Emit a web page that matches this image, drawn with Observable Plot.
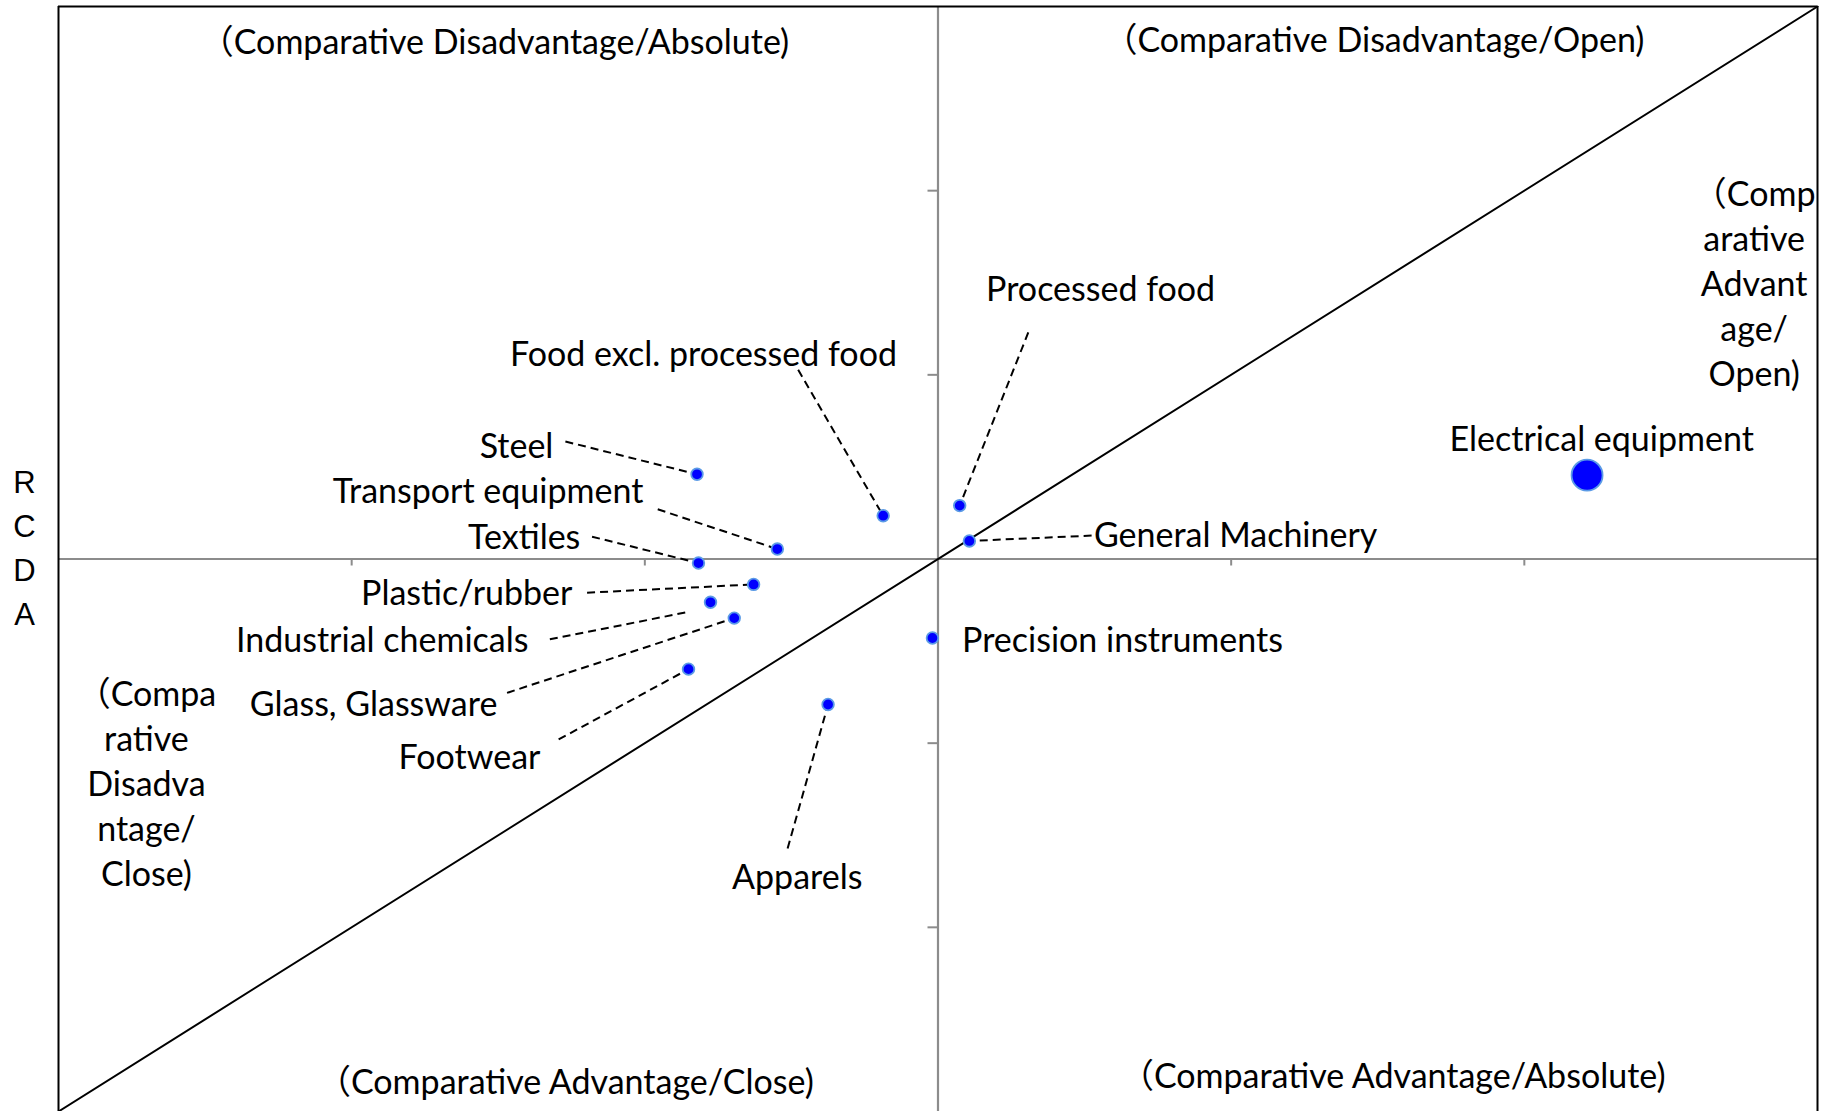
<!DOCTYPE html>
<html>
<head>
<meta charset="utf-8">
<script src="https://cdn.jsdelivr.net/npm/d3@7"></script>
<script src="https://cdn.jsdelivr.net/npm/@observablehq/plot@0.6"></script>
<style>
html, body { margin: 0; padding: 0; background: #fff; }
#chart svg { display: block; }
</style>
</head>
<body>
<div id="chart"></div>
<script>
// ---- data ----
const categories = [
  "Steel", "Food excl.  processed food", "Processed food", "Transport equipment",
  "Textiles", "General Machinery", "Plastic/rubber", "Industrial chemicals",
  "Glass, Glassware", "Footwear", "Apparels", "Precision instruments", "Electrical equipment"
];
const rca  = [-0.822, -0.187, 0.074, -0.548, -0.817, 0.107, -0.629, -0.776, -0.695, -0.851, -0.375, -0.019, 2.214];
const rcda = [ 0.460,  0.235, 0.290,  0.054, -0.022, 0.098, -0.138, -0.235, -0.321, -0.598, -0.790, -0.429, 0.455];

const xDomain = [-3, 3];
const yDomain = [-3, 3];
const xTicks = [-2, -1, 0, 1, 2];
const yTicks = [-2, -1, 0, 1, 2];

const quadrantTitles = [
  "（Comparative Disadvantage/Absolute)",
  "（Comparative Disadvantage/Open)",
  "（Comparative Advantage/Close)",
  "（Comparative Advantage/Absolute)"
];
const sideTitles = [
  "（Compa\nrative\nDisadva\nntage/\nClose)",
  "（Comp\narative\nAdvant\nage/\nOpen)"
];
const yAxisTitle = "R\nC\nD\nA";

// ---- annotation layout (in data units) ----
const labelLayout = {
  "Steel":                      {lx: -1.312, ly:  0.554, anchor: "end",   sx: -1.271, sy:  0.638},
  "Food excl.  processed food": {lx: -0.140, ly:  1.054, anchor: "end",   sx: -0.477, sy:  1.027},
  "Processed food":             {lx:  0.164, ly:  1.408, anchor: "start", sx:  0.308, sy:  1.230},
  "Transport equipment":        {lx: -1.005, ly:  0.310, anchor: "end",   sx: -0.956, sy:  0.270},
  "Textiles":                   {lx: -1.220, ly:  0.060, anchor: "end",   sx: -1.180, sy:  0.121},
  "General Machinery":          {lx:  0.532, ly:  0.076, anchor: "start", sx:  0.524, sy:  0.127},
  "Plastic/rubber":             {lx: -1.247, ly: -0.239, anchor: "end",   sx: -1.197, sy: -0.183},
  "Industrial chemicals":       {lx: -1.397, ly: -0.495, anchor: "end",   sx: -1.324, sy: -0.436, ex: -0.847, ey: -0.286},
  "Glass, Glassware":           {lx: -1.503, ly: -0.842, anchor: "end",   sx: -1.470, sy: -0.727},
  "Footwear":                   {lx: -1.356, ly: -1.130, anchor: "end",   sx: -1.294, sy: -0.980},
  "Apparels":                   {lx: -0.480, ly: -1.783, anchor: "middle",sx: -0.513, sy: -1.572},
  "Precision instruments":      {lx:  0.082, ly: -0.495, anchor: "start"},
  "Electrical equipment":       {lx:  1.745, ly:  0.592, anchor: "start"}
};
const quadrantLayout = [
  {x: -1.513, y:  2.740},
  {x:  1.487, y:  2.755},
  {x: -1.271, y: -2.905},
  {x:  1.551, y: -2.870}
];
const sideLayout = [
  {x: -2.700, y: -1.778},
  {x:  2.784, y:  0.940}
];

const points = categories.map((name, i) => ({name, x: rca[i], y: rcda[i]}));
const L = d => labelLayout[d.name];
const leaders = points.filter(d => L(d).sx != null);

const FONT = "Lato, 'Noto Sans', 'Noto Sans CJK JP', sans-serif";
const FS = 34;

const labelMark = anchor => Plot.text(points.filter(d => L(d).anchor === anchor), {
  x: d => L(d).lx, y: d => L(d).ly, text: d => d.name.replace(/\s+/g, " "),
  textAnchor: anchor, lineAnchor: "bottom", dy: 1.5, fontSize: FS, fill: "#000"
});

const chart = Plot.plot({
  width: 1829,
  height: 1111,
  marginLeft: 58,
  marginRight: 12,
  marginTop: 6,
  marginBottom: 0,
  style: {fontFamily: FONT, background: "#fff", overflow: "visible"},
  x: {domain: xDomain, axis: null},
  y: {domain: yDomain, axis: null},
  r: {type: "identity"},
  marks: [
    // axes through the origin
    Plot.ruleX([0], {stroke: "#8c8c8c", strokeWidth: 2.2}),
    Plot.ruleY([0], {stroke: "#8c8c8c", strokeWidth: 2.2}),
    Plot.ruleX(xTicks, {x: d => d, y1: 0, y2: 0, insetBottom: -7, stroke: "#8c8c8c", strokeWidth: 2}),
    Plot.ruleY(yTicks, {y: d => d, x1: 0, x2: 0, insetLeft: -10, stroke: "#8c8c8c", strokeWidth: 2}),
    // 45-degree line
    Plot.line(xDomain, {x: d => d, y: d => d, stroke: "#000", strokeWidth: 2}),
    // leader lines
    Plot.link(leaders, {
      x1: d => L(d).sx, y1: d => L(d).sy,
      x2: d => L(d).ex ?? d.x, y2: d => L(d).ey ?? d.y,
      stroke: "#000", strokeWidth: 2, strokeDasharray: "8,5"
    }),
    // points
    Plot.dot(points, {
      x: "x", y: "y",
      r: d => d.name === "Electrical equipment" ? 15.5 : 5.8,
      fill: "#0000ff", stroke: "#5b9be6", strokeWidth: 1.8
    }),
    // labels
    labelMark("start"),
    labelMark("end"),
    labelMark("middle"),
    // quadrant titles
    Plot.text(quadrantTitles, {
      x: (d, i) => quadrantLayout[i].x, y: (d, i) => quadrantLayout[i].y, text: d => d,
      textAnchor: "middle", lineAnchor: "bottom", fontSize: FS, fill: "#000"
    }),
    Plot.text(sideTitles, {
      x: (d, i) => sideLayout[i].x, y: (d, i) => sideLayout[i].y, text: d => d,
      textAnchor: "middle", lineAnchor: "bottom", lineHeight: 45 / FS, fontSize: FS, fill: "#000"
    }),
    // y axis title
    Plot.text([yAxisTitle], {
      x: () => xDomain[0], y: () => -0.356, dx: -34, text: d => d,
      textAnchor: "middle", lineAnchor: "bottom", lineHeight: 1.41,
      fontFamily: "'Liberation Sans', Arial, sans-serif", fontSize: 31, fill: "#000"
    }),
    // frame (left, right, top)
    Plot.ruleX(xDomain, {stroke: "#000", strokeWidth: 2}),
    Plot.ruleY([yDomain[1]], {stroke: "#000", strokeWidth: 2})
  ]
});

document.getElementById("chart").appendChild(chart);
</script>
</body>
</html>
